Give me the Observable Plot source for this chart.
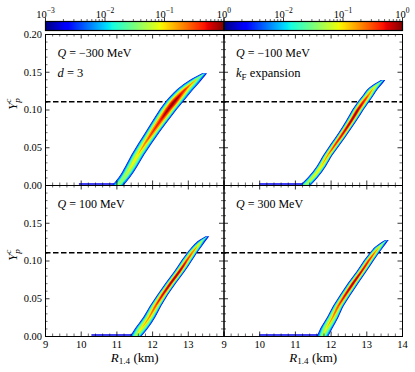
<!DOCTYPE html>
<html><head><meta charset="utf-8">
<script src="https://cdn.jsdelivr.net/npm/d3@7"></script>
<script src="https://cdn.jsdelivr.net/npm/@observablehq/plot@0.6"></script>
<style>
body{margin:0;background:#fff;}
#chart{width:415px;height:372px;position:relative;overflow:hidden;background:#fff;}
#chart svg{display:block;overflow:visible;}
#chart svg, #chart svg text{font-family:'Liberation Serif','DejaVu Serif',serif !important;}
#cbar{position:absolute;left:0;top:0;}
</style></head><body><div id="chart"></div>
<script>
// ---------------- data ----------------
// contour level values (normalised density) – outer to inner
const levelValues = [0.002, 0.006, 0.014, 0.035, 0.09, 0.2, 0.45, 0.85];
// rows: [Y_p^c, ridge R_1.4 (km), horizontal half-width of each contour level (km)]
const ridgeQm300 = [
  [0.000, 11.05, 0.16, 0.14, 0.09, 0.05, 0, 0, 0, 0],
  [0.010, 11.22, 0.16, 0.14, 0.10, 0.07, 0, 0, 0, 0],
  [0.025, 11.42, 0.17, 0.15, 0.12, 0.09, 0.03, 0, 0, 0],
  [0.040, 11.60, 0.18, 0.16, 0.13, 0.10, 0.05, 0, 0, 0],
  [0.055, 11.80, 0.19, 0.17, 0.14, 0.11, 0.07, 0.03, 0, 0],
  [0.070, 12.01, 0.20, 0.18, 0.15, 0.13, 0.09, 0.06, 0.02, 0],
  [0.085, 12.23, 0.22, 0.20, 0.17, 0.15, 0.11, 0.08, 0.04, 0],
  [0.100, 12.45, 0.24, 0.22, 0.19, 0.17, 0.13, 0.10, 0.07, 0.03],
  [0.111, 12.63, 0.25, 0.23, 0.20, 0.17, 0.14, 0.11, 0.08, 0.04],
  [0.122, 12.83, 0.24, 0.22, 0.18, 0.15, 0.12, 0.08, 0.04, 0],
  [0.132, 13.05, 0.21, 0.19, 0.15, 0.11, 0.07, 0.03, 0, 0],
  [0.141, 13.27, 0.15, 0.12, 0.08, 0.05, 0, 0, 0, 0],
  [0.148, 13.47, 0.07, 0.04, 0, 0, 0, 0, 0, 0]
];
const ridgeQm100 = [
  [0.000, 11.30, 0.15, 0.13, 0.09, 0.05, 0, 0, 0, 0],
  [0.010, 11.50, 0.14, 0.12, 0.09, 0.07, 0.02, 0, 0, 0],
  [0.025, 11.74, 0.13, 0.11, 0.09, 0.07, 0.04, 0, 0, 0],
  [0.040, 11.93, 0.13, 0.11, 0.09, 0.08, 0.05, 0.02, 0, 0],
  [0.055, 12.15, 0.14, 0.12, 0.10, 0.08, 0.06, 0.04, 0.02, 0],
  [0.070, 12.37, 0.14, 0.12, 0.10, 0.09, 0.07, 0.05, 0.03, 0.01],
  [0.085, 12.58, 0.15, 0.13, 0.11, 0.09, 0.07, 0.05, 0.04, 0.02],
  [0.100, 12.77, 0.16, 0.14, 0.12, 0.10, 0.08, 0.06, 0.04, 0.02],
  [0.111, 12.93, 0.16, 0.14, 0.12, 0.10, 0.08, 0.05, 0.03, 0],
  [0.120, 13.07, 0.15, 0.13, 0.11, 0.09, 0.06, 0.03, 0, 0],
  [0.128, 13.20, 0.14, 0.12, 0.09, 0.07, 0.03, 0, 0, 0],
  [0.134, 13.34, 0.11, 0.08, 0.05, 0.03, 0, 0, 0, 0],
  [0.139, 13.47, 0.06, 0.03, 0, 0, 0, 0, 0, 0]
];
const ridgeQ100 = [
  [0.000, 11.55, 0.16, 0.14, 0.10, 0.06, 0, 0, 0, 0],
  [0.010, 11.70, 0.18, 0.16, 0.13, 0.10, 0.04, 0, 0, 0],
  [0.025, 11.92, 0.17, 0.15, 0.12, 0.10, 0.06, 0.02, 0, 0],
  [0.040, 12.10, 0.16, 0.14, 0.12, 0.10, 0.07, 0.04, 0.01, 0],
  [0.055, 12.30, 0.15, 0.13, 0.11, 0.10, 0.07, 0.05, 0.03, 0.01],
  [0.070, 12.52, 0.15, 0.13, 0.11, 0.09, 0.07, 0.05, 0.04, 0.02],
  [0.085, 12.76, 0.15, 0.13, 0.11, 0.09, 0.07, 0.05, 0.04, 0.02],
  [0.100, 12.97, 0.15, 0.13, 0.11, 0.09, 0.06, 0.04, 0.02, 0],
  [0.111, 13.13, 0.14, 0.12, 0.10, 0.08, 0.05, 0.03, 0, 0],
  [0.120, 13.28, 0.13, 0.11, 0.08, 0.06, 0.03, 0, 0, 0],
  [0.127, 13.42, 0.10, 0.07, 0.04, 0.02, 0, 0, 0, 0],
  [0.132, 13.55, 0.05, 0.02, 0, 0, 0, 0, 0, 0]
];
const ridgeQ300 = [
  [0.000, 11.78, 0.16, 0.14, 0.10, 0.06, 0, 0, 0, 0],
  [0.010, 11.88, 0.17, 0.15, 0.12, 0.09, 0.03, 0, 0, 0],
  [0.025, 12.06, 0.16, 0.14, 0.12, 0.10, 0.05, 0.02, 0, 0],
  [0.040, 12.22, 0.15, 0.13, 0.11, 0.09, 0.06, 0.04, 0.01, 0],
  [0.055, 12.42, 0.15, 0.13, 0.11, 0.09, 0.07, 0.05, 0.03, 0.01],
  [0.070, 12.63, 0.15, 0.13, 0.11, 0.09, 0.07, 0.05, 0.04, 0.02],
  [0.085, 12.86, 0.14, 0.12, 0.10, 0.09, 0.06, 0.04, 0.03, 0.01],
  [0.100, 13.07, 0.14, 0.12, 0.10, 0.08, 0.06, 0.04, 0.02, 0],
  [0.111, 13.24, 0.13, 0.11, 0.09, 0.07, 0.05, 0.02, 0, 0],
  [0.118, 13.36, 0.12, 0.10, 0.07, 0.05, 0.02, 0, 0, 0],
  [0.123, 13.47, 0.09, 0.06, 0.03, 0.02, 0, 0, 0, 0],
  [0.127, 13.58, 0.05, 0.02, 0, 0, 0, 0, 0, 0]
];
const ridges = [ridgeQm300, ridgeQm100, ridgeQ100, ridgeQ300];
const panelCols = ["L", "R", "L", "R"];
const panelRows = ["T", "T", "B", "B"];
const qLabels = ["Q = −300 MeV", "Q = −100 MeV", "Q = 100 MeV", "Q = 300 MeV"];
const extraLabels = ["d = 3", "k_F expansion", null, null];
// faint low-density tail lying on the Y=0 axis
const tailStart = [9.95, 10.0, 10.3, 10.0];
const tailEnd = [11.0, 11.3, 11.6, 11.8];
const tailY = [0.002, 0.002, 0.002, 0.002];
const yCrit = [0.111];
// ticks
const xMajor = [9, 10, 11, 12, 13, 14];
const xMinor = [9.2, 9.4, 9.6, 9.8, 10.2, 10.4, 10.6, 10.8, 11.2, 11.4, 11.6, 11.8, 12.2, 12.4, 12.6, 12.8, 13.2, 13.4, 13.6, 13.8];
const yMajor = [0, 0.05, 0.1, 0.15, 0.2];
const yMinor = [0.01, 0.02, 0.03, 0.04, 0.06, 0.07, 0.08, 0.09, 0.11, 0.12, 0.13, 0.14, 0.16, 0.17, 0.18, 0.19];
const xTickLabelsLeft = [9, 10, 11, 12, 13];
const xTickLabelsRight = [9, 10, 11, 12, 13, 14];
const yTickLabelsTop = [0, 0.05, 0.1, 0.15, 0.2];
const yTickLabelsBottom = [0, 0.05, 0.1, 0.15];
const cbMajor = [0.001, 0.01, 0.1, 1];
const cbMinor = [0.002, 0.003, 0.004, 0.005, 0.006, 0.007, 0.008, 0.009, 0.02, 0.03, 0.04, 0.05, 0.06, 0.07, 0.08, 0.09, 0.2, 0.3, 0.4, 0.5, 0.6, 0.7, 0.8, 0.9];
const cbLabelsLeft = [0.001, 0.01, 0.1, 1];
const cbLabelsRight = [0.01, 0.1, 1];

// ---------------- jet colormap (matplotlib segment table) ----------------
const jetR = [[0, 0], [0.35, 0], [0.66, 1], [0.89, 1], [1, 0.5]];
const jetG = [[0, 0], [0.125, 0], [0.375, 1], [0.64, 1], [0.91, 0], [1, 0]];
const jetB = [[0, 0.5], [0.11, 1], [0.34, 1], [0.65, 0], [1, 0]];
function seg(t, pts) {
  t = Math.max(0, Math.min(1, t));
  for (let i = 1; i < pts.length; i++) {
    if (t <= pts[i][0]) {
      const [a0, b0] = pts[i - 1], [a1, b1] = pts[i];
      return b0 + (b1 - b0) * (t - a0) / (a1 - a0);
    }
  }
  return pts[pts.length - 1][1];
}
const jet = (t) => `rgb(${Math.round(255 * seg(t, jetR))},${Math.round(255 * seg(t, jetG))},${Math.round(255 * seg(t, jetB))})`;
const colorScale = {type: "log", domain: [1e-3, 1], interpolate: jet, clamp: true};

// ---------------- tables for the marks ----------------
const levelData = levelValues.map((v, k) => {
  const out = [];
  ridges.forEach((rows, p) => {
    rows.forEach((r, i) => {
      const w = r[2 + k];
      const prev = rows[i - 1], next = rows[i + 1];
      if (w > 0 || (prev && prev[2 + k] > 0) || (next && next[2 + k] > 0)) {
        out.push({fx: panelCols[p], fy: panelRows[p], Y: r[0], x1: r[1] - w, x2: r[1] + w, v});
      }
    });
  });
  return out;
});
const tails = tailStart.map((r0, p) => ({fx: panelCols[p], fy: panelRows[p], r0, r1: tailEnd[p], y: tailY[p], v: levelValues[0]}));
const qNotes = qLabels.map((t, p) => ({fx: panelCols[p], fy: panelRows[p], t}));
const extraNotes = extraLabels.map((t, p) => ({fx: panelCols[p], fy: panelRows[p], t})).filter(d => d.t);
const xLabels = [
  ...xTickLabelsLeft.map(v => ({fx: "L", fy: "B", v})),
  ...xTickLabelsRight.map(v => ({fx: "R", fy: "B", v}))
];
const yLabels = [
  ...yTickLabelsTop.map(v => ({fx: "L", fy: "T", v})),
  ...yTickLabelsBottom.map(v => ({fx: "L", fy: "B", v}))
];
const yTitles = [{fx: "L", fy: "T"}, {fx: "L", fy: "B"}];
const xTitles = [{fx: "L", fy: "B"}, {fx: "R", fy: "B"}];
const cbLabels = [
  ...cbLabelsLeft.map(v => ({fx: "L", v})),
  ...cbLabelsRight.map(v => ({fx: "R", v}))
];

const FONT = "Liberation Serif";
const W = 415, H = 372, ML = 45, MR = 13, MT = 34, MB = 36;
const FW = (W - ML - MR) / 2;   // facet width
const FH = (H - MT - MB) / 2;   // facet height
const MAJ = 4.5, MIN = 2.5;

// ---------------- colour bars (legend, drawn in the top margin) ----------------
const cb = Plot.plot({
  width: W, height: 33,
  marginTop: 21, marginBottom: 3, marginLeft: ML, marginRight: MR,
  style: {fontFamily: FONT, fontSize: "10.5px", background: "none", color: "black"},
  fx: {domain: ["L", "R"], padding: 0, round: false, axis: null},
  x: {domain: [-3, 0], axis: null},
  y: {domain: [0, 1], axis: null},
  color: colorScale,
  marks: [
    Plot.raster({x1: -3, x2: 0, y1: 0, y2: 1, fill: (x, y) => Math.pow(10, x), pixelSize: 1}),
    Plot.frame({stroke: "black", strokeWidth: 1.2}),
    Plot.tickX(cbMajor, {x: d => Math.log10(d), insetTop: -3.5, insetBottom: 9, stroke: "black", strokeWidth: 0.8}),
    Plot.tickX(cbMinor, {x: d => Math.log10(d), insetTop: -2, insetBottom: 9, stroke: "black", strokeWidth: 0.6}),
    Plot.text(cbLabels, {fx: "fx", x: d => Math.log10(d.v), text: d => "10^" + Math.round(Math.log10(d.v)), frameAnchor: "top", dy: -11, fontSize: 10.5, fontFamily: FONT, fill: "black"})
  ]
});
cb.id = "cbar";

// ---------------- main 2x2 figure ----------------
const marks = [
  Plot.ruleY(yCrit, {y: d => d, stroke: "black", strokeWidth: 1.4, strokeDasharray: "5.5,2.5"}),
  Plot.ruleY(tails, {fx: "fx", fy: "fy", y: "y", x1: "r0", x2: "r1", stroke: "v", strokeWidth: 1.3})
];
levelData.forEach(d => marks.push(Plot.areaX(d, {fx: "fx", fy: "fy", y: "Y", x1: "x1", x2: "x2", fill: "v", curve: "monotone-y"})));
marks.push(
  Plot.frame({stroke: "black", strokeWidth: 1}),
  // inward ticks on all four sides of every panel
  Plot.tickX(xMajor, {x: d => d, insetTop: FH - MAJ, stroke: "black", strokeWidth: 0.8}),
  Plot.tickX(xMajor, {x: d => d, insetBottom: FH - MAJ, stroke: "black", strokeWidth: 0.8}),
  Plot.tickX(xMinor, {x: d => d, insetTop: FH - MIN, stroke: "black", strokeWidth: 0.6}),
  Plot.tickX(xMinor, {x: d => d, insetBottom: FH - MIN, stroke: "black", strokeWidth: 0.6}),
  Plot.tickY(yMajor, {y: d => d, insetRight: FW - MAJ, stroke: "black", strokeWidth: 0.8}),
  Plot.tickY(yMajor, {y: d => d, insetLeft: FW - MAJ, stroke: "black", strokeWidth: 0.8}),
  Plot.tickY(yMinor, {y: d => d, insetRight: FW - MIN, stroke: "black", strokeWidth: 0.6}),
  Plot.tickY(yMinor, {y: d => d, insetLeft: FW - MIN, stroke: "black", strokeWidth: 0.6}),
  // tick labels
  Plot.text(xLabels, {fx: "fx", fy: "fy", x: "v", text: d => String(d.v), frameAnchor: "bottom", dy: 8, lineAnchor: "middle", fontSize: 10.5, fontFamily: FONT, fill: "black"}),
  Plot.text(yLabels, {fx: "fx", fy: "fy", y: "v", text: d => d3.format(".2f")(d.v), frameAnchor: "left", dx: -3.5, textAnchor: "end", fontSize: 10.5, fontFamily: FONT, fill: "black"}),
  // axis titles
  Plot.text(yTitles, {fx: "fx", fy: "fy", text: () => "Y_p^c", frameAnchor: "left", dx: -33, rotate: -90, fontSize: 13, fontFamily: FONT, fill: "black"}),
  Plot.text(xTitles, {fx: "fx", fy: "fy", text: () => "R_1.4 (km)", frameAnchor: "bottom", dy: 21.3, lineAnchor: "middle", fontSize: 13, fontFamily: FONT, fill: "black"}),
  // panel annotations
  Plot.text(qNotes, {fx: "fx", fy: "fy", text: "t", frameAnchor: "top-left", dx: 12, dy: 19, textAnchor: "start", lineAnchor: "middle", fontSize: 12, fontFamily: FONT, fill: "black"}),
  Plot.text(extraNotes, {fx: "fx", fy: "fy", text: "t", frameAnchor: "top-left", dx: 12, dy: 38.5, textAnchor: "start", lineAnchor: "middle", fontSize: 12.5, fontFamily: FONT, fill: "black"})
);

const main = Plot.plot({
  width: W, height: H,
  marginTop: MT, marginBottom: MB, marginLeft: ML, marginRight: MR,
  style: {fontFamily: FONT, fontSize: "10.5px", background: "white", color: "black"},
  fx: {domain: ["L", "R"], padding: 0, round: false, axis: null},
  fy: {domain: ["T", "B"], padding: 0, round: false, axis: null},
  x: {domain: [9, 14], axis: null},
  y: {domain: [0, 0.2], axis: null},
  color: colorScale,
  marks
});

// ---------------- rich text (italics, sub/superscripts) ----------------
const rich = {
  "Y_p^c": '<tspan font-style="italic">Y</tspan><tspan font-style="italic" font-size="70%" dy="3">p</tspan><tspan font-style="italic" font-size="70%" dx="-4.5" dy="-8.5">c</tspan>',
  "R_1.4 (km)": '<tspan font-style="italic">R</tspan><tspan font-size="70%" dy="2.5">1.4</tspan><tspan dy="-2.5"> (km)</tspan>',
  "d = 3": '<tspan font-style="italic">d</tspan> = 3',
  "k_F expansion": '<tspan font-style="italic">k</tspan><tspan font-size="72%" dy="2.5">F</tspan><tspan dy="-2.5"> expansion</tspan>'
};
qLabels.forEach(q => { rich[q] = '<tspan font-style="italic">Q</tspan>' + q.slice(1); });
function enrich(svg) {
  svg.querySelectorAll("text").forEach(t => {
    const k = t.textContent;
    if (rich[k]) t.innerHTML = rich[k];
    else {
      const m = /^10\^(-?\d+)$/.exec(k);
      if (m) t.innerHTML = '10<tspan font-size="72%" dy="-4.5">' + m[1].replace("-", "−") + '</tspan>';
    }
  });
}
enrich(cb); enrich(main);
const host = document.getElementById("chart");
host.appendChild(main);
host.appendChild(cb);
</script></body></html>
